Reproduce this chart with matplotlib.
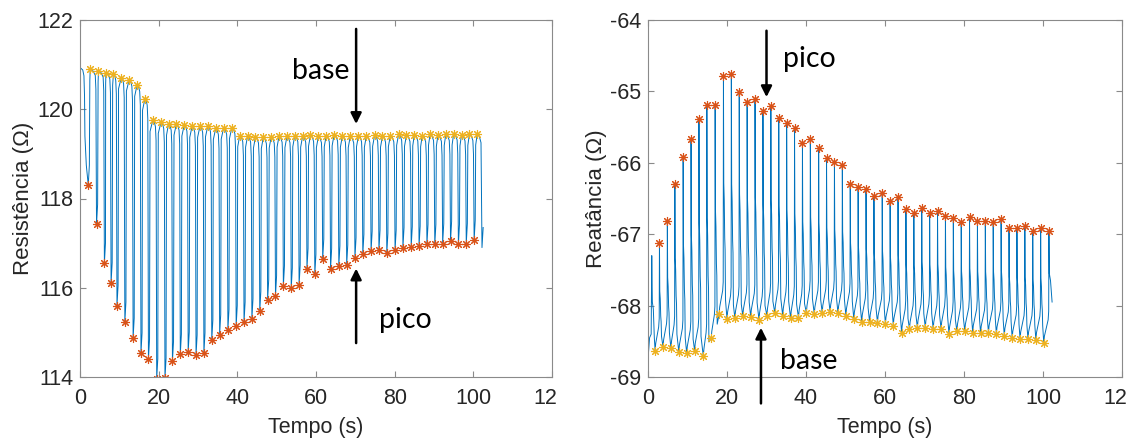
import matplotlib
matplotlib.use("Agg")
import matplotlib.pyplot as plt

# ---------------- data: Resistência ----------------
res_pico_t = [2.1, 4.2, 6.2, 7.9, 9.4, 11.4, 13.5, 15.5, 17.4, 19.5,
              21.6, 23.5, 25.5, 27.5, 29.5, 31.5, 33.5, 35.5, 37.6, 39.7,
              41.7, 43.7, 45.7, 47.7, 49.7, 51.7, 53.7, 55.7, 57.7, 59.7,
              61.7, 63.7, 65.8, 67.8, 69.9, 71.9, 74.0, 76.0, 78.0, 80.1,
              82.1, 84.2, 86.2, 88.2, 90.2, 92.2, 94.2, 96.2, 98.2, 100.2]
res_pico_v = [118.30, 117.42, 116.55, 116.11, 115.60, 115.23, 114.87, 114.54, 114.40, 113.96,
              113.97, 114.35, 114.51, 114.56, 114.49, 114.54, 114.83, 114.95, 115.06, 115.15,
              115.23, 115.30, 115.47, 115.73, 115.82, 116.04, 115.99, 116.06, 116.43, 116.30,
              116.64, 116.43, 116.49, 116.51, 116.67, 116.75, 116.82, 116.84, 116.77, 116.84,
              116.90, 116.92, 116.93, 116.97, 116.97, 116.99, 117.04, 116.97, 116.99, 117.06]
res_base_t = [2.6, 4.7, 6.6, 8.5, 10.5, 12.5, 14.5, 16.5, 18.5, 20.6,
              22.5, 24.5, 26.5, 28.5, 30.5, 32.5, 34.5, 36.5, 38.6, 40.6,
              42.6, 44.6, 46.6, 48.6, 50.6, 52.6, 54.6, 56.6, 58.6, 60.6,
              62.6, 64.6, 66.7, 68.7, 70.8, 72.8, 74.9, 76.9, 78.9, 81.0,
              83.0, 85.0, 87.0, 89.0, 91.0, 93.0, 95.0, 97.0, 99.0, 101.0]
res_base_v = [120.90, 120.86, 120.82, 120.79, 120.71, 120.66, 120.54, 120.23, 119.75, 119.71,
              119.67, 119.67, 119.65, 119.62, 119.62, 119.63, 119.57, 119.58, 119.59, 119.41,
              119.40, 119.38, 119.37, 119.38, 119.40, 119.39, 119.41, 119.40, 119.42, 119.39,
              119.41, 119.43, 119.40, 119.39, 119.41, 119.40, 119.42, 119.40, 119.41, 119.44,
              119.42, 119.43, 119.41, 119.44, 119.42, 119.44, 119.45, 119.43, 119.44, 119.45]
res_head_t = [0.0, 0.2, 0.7, 1.0, 1.15, 1.25, 1.6]
res_head_v = [120.85, 120.92, 120.88, 120.75, 120.3, 119.4, 118.75]
res_tail_t = [101.5, 101.95, 102.2, 102.5]
res_tail_v = [119.40, 119.25, 116.9, 117.35]

# ---------------- data: Reatância ----------------
rea_base_t = [1.8, 3.8, 5.8, 7.8, 9.8, 11.8, 14.0, 16.0, 18.0, 20.0,
              22.0, 24.0, 26.0, 28.1, 30.1, 32.1, 34.1, 36.1, 38.1, 40.1,
              42.1, 44.1, 46.1, 48.1, 50.1, 52.1, 54.1, 56.1, 58.1, 60.1,
              62.1, 64.2, 66.2, 68.2, 70.2, 72.2, 74.2, 76.2, 78.2, 80.2,
              82.2, 84.2, 86.2, 88.2, 90.2, 92.2, 94.2, 96.2, 98.2, 100.2]
rea_base_v = [-68.63, -68.58, -68.60, -68.65, -68.67, -68.63, -68.71, -68.46, -68.12, -68.19,
              -68.18, -68.15, -68.16, -68.20, -68.14, -68.10, -68.14, -68.18, -68.17, -68.10,
              -68.12, -68.10, -68.09, -68.11, -68.14, -68.19, -68.23, -68.23, -68.24, -68.26,
              -68.28, -68.38, -68.33, -68.31, -68.31, -68.33, -68.33, -68.40, -68.36, -68.36,
              -68.38, -68.39, -68.38, -68.40, -68.42, -68.46, -68.47, -68.47, -68.48, -68.53]
rea_pico_t = [2.9, 4.9, 6.8, 8.9, 10.9, 12.9, 14.9, 17.0, 19.1, 21.1,
              23.1, 25.1, 27.1, 29.1, 31.1, 33.1, 35.1, 37.1, 39.1, 41.1,
              43.2, 45.2, 47.2, 49.2, 51.2, 53.2, 55.2, 57.2, 59.3, 61.3,
              63.3, 65.3, 67.3, 69.3, 71.3, 73.3, 75.3, 77.3, 79.3, 81.4,
              83.4, 85.4, 87.4, 89.4, 91.4, 93.4, 95.4, 97.4, 99.4, 101.5]
rea_pico_v = [-67.12, -66.81, -66.30, -65.92, -65.66, -65.39, -65.19, -65.19, -64.78, -64.75,
              -65.01, -65.15, -65.11, -65.27, -65.20, -65.37, -65.44, -65.51, -65.72, -65.66,
              -65.79, -65.93, -65.99, -66.03, -66.29, -66.34, -66.37, -66.47, -66.42, -66.54,
              -66.48, -66.65, -66.70, -66.63, -66.70, -66.67, -66.75, -66.78, -66.83, -66.76,
              -66.82, -66.82, -66.83, -66.79, -66.92, -66.91, -66.89, -66.95, -66.91, -66.95]
rea_head_t = [0.0, 0.4, 0.8, 0.95, 1.1, 1.35, 1.6]
rea_head_v = [-68.75, -68.45, -68.40, -67.30, -67.95, -68.05, -68.45]
rea_tail_t = [101.6, 101.9, 102.3]
rea_tail_v = [-67.55, -67.65, -67.95]

xticks = [0, 20, 40, 60, 80, 100]
xtick_labels = ["0", "20", "40", "60", "80", "100"]
cut_label = "12"          # the 120 label is cut at the panel edge in the reference
res_yticks = [114, 116, 118, 120, 122]
rea_yticks = [-69, -68, -67, -66, -65, -64]

LINE = "#0072BD"
ORANGE = "#D95319"
YELLOW = "#EDB120"
TXT = "#262626"
SPINE = "#8a8a8a"
FS = 15.5


def resist_wave(pt, pv, bt, bv):
    t = list(res_head_t)
    y = list(res_head_v)
    n = len(pt)
    for k in range(n):
        tp, P, tb, B = pt[k], pv[k], bt[k], bv[k]
        rise = min(tp + 0.40, tb - 0.08)
        t += [tp, tp + 0.28, rise, tb]
        y += [P, P + 0.45, B - 0.25, B]
        if k + 1 < n:
            tn = pt[k + 1]
            t += [(tb + tn) / 2 - 0.1, tn - 0.32, tn - 0.16]
            y += [B - 0.04, B - 0.14, B - 0.45]
    t += res_tail_t
    y += res_tail_v
    return t, y


def react_wave(bt, bv, pt, pv):
    t = list(rea_head_t)
    y = list(rea_head_v)
    n = len(bt)
    for k in range(n):
        tb, B, tp, P = bt[k], bv[k], pt[k], pv[k]
        amp = P - B
        t += [tb, tb + 0.15, tp - 0.2, tp - 0.06, tp]
        y += [B, B + 0.10, B + 0.33, B + 0.45, P]
        if k + 1 < n:
            t += [tp + 0.08, tp + 0.2, tp + 0.32, tp + 0.42, tp + 0.52]
            y += [P - 0.45 * amp, P - 0.52 * amp, P - 0.68 * amp, P - 0.73 * amp, B + 0.2]
    t += rea_tail_t
    y += rea_tail_v
    return t, y


fig = plt.figure(figsize=(11.29, 4.41), dpi=100)
ax1 = fig.add_axes([80 / 1129, 1 - 377 / 441, 472 / 1129, 357 / 441])
ax2 = fig.add_axes([648 / 1129, 1 - 377 / 441, 474 / 1129, 357 / 441])

tick_font = "Liberation Sans"
note_font = ["Lato", "DejaVu Sans"]

for ax in (ax1, ax2):
    for s in ax.spines.values():
        s.set_color(SPINE)
        s.set_linewidth(0.8)
    ax.tick_params(direction="in", length=4, width=0.8, color=SPINE,
                   top=True, right=True, labelsize=FS, labelcolor=TXT, pad=5)
    ax.tick_params(axis="x", pad=8)
    ax.set_xlim(0, 120)
    ax.set_xticks(xticks + [120])
    ax.set_xticklabels(xtick_labels + [""], fontfamily=tick_font)
    ax.annotate(cut_label, xy=(120, 0), xycoords=("data", "axes fraction"),
                xytext=(-4.5, -8), textcoords="offset points", ha="center", va="top",
                fontsize=FS, color=TXT, fontfamily=tick_font, annotation_clip=False)
    ax.set_xlabel("Tempo (s)", fontsize=FS, color=TXT, fontfamily=tick_font, labelpad=6)

# left
t, y = resist_wave(res_pico_t, res_pico_v, res_base_t, res_base_v)
ax1.plot(t, y, color=LINE, lw=0.7)
ax1.plot(res_base_t, res_base_v, linestyle="none", marker=(8, 2, 0), ms=6.5, mew=0.8, color=YELLOW)
ax1.plot(res_pico_t, res_pico_v, linestyle="none", marker=(8, 2, 0), ms=6.5, mew=0.8, color=ORANGE)
ax1.set_ylim(114, 122)
ax1.set_yticks(res_yticks)
ax1.set_yticklabels([str(v) for v in res_yticks], fontfamily=tick_font)
ax1.set_ylabel("Resistência (Ω)", fontsize=FS + 0.5, color=TXT, fontfamily=tick_font, labelpad=2)

arrow = dict(arrowstyle="-|>", color="black", lw=1.8, mutation_scale=16, shrinkA=0, shrinkB=0)
ax1.annotate("", xy=(70.2, 119.67), xytext=(70.2, 121.8), arrowprops=arrow)
ax1.annotate("", xy=(70.2, 116.43), xytext=(70.2, 114.76), arrowprops=arrow)
ax1.text(61.3, 120.85, "base", fontsize=20.5, fontfamily=note_font, ha="center", va="center", color="black")
ax1.text(82.8, 115.27, "pico", fontsize=20.5, fontfamily=note_font, ha="center", va="center", color="black")

# right
t, y = react_wave(rea_base_t, rea_base_v, rea_pico_t, rea_pico_v)
ax2.plot(t, y, color=LINE, lw=0.7)
ax2.plot(rea_pico_t, rea_pico_v, linestyle="none", marker=(8, 2, 0), ms=6.5, mew=0.8, color=ORANGE)
ax2.plot(rea_base_t, rea_base_v, linestyle="none", marker=(8, 2, 0), ms=6.5, mew=0.8, color=YELLOW)
ax2.set_ylim(-69, -64)
ax2.set_yticks(rea_yticks)
ax2.set_yticklabels([str(v) for v in rea_yticks], fontfamily=tick_font)
ax2.set_ylabel("Reatância (Ω)", fontsize=FS + 0.5, color=TXT, fontfamily=tick_font, labelpad=2)

ax2.annotate("", xy=(30.0, -65.08), xytext=(30.0, -64.15), arrowprops=arrow)
ax2.annotate("", xy=(28.6, -68.31), xytext=(28.6, -69.37), arrowprops=arrow,
             annotation_clip=False)
ax2.text(40.9, -64.54, "pico", fontsize=20.5, fontfamily=note_font, ha="center", va="center", color="black")
ax2.text(40.6, -68.77, "base", fontsize=20.5, fontfamily=note_font, ha="center", va="center", color="black")

fig.savefig("out.png", dpi=100)
